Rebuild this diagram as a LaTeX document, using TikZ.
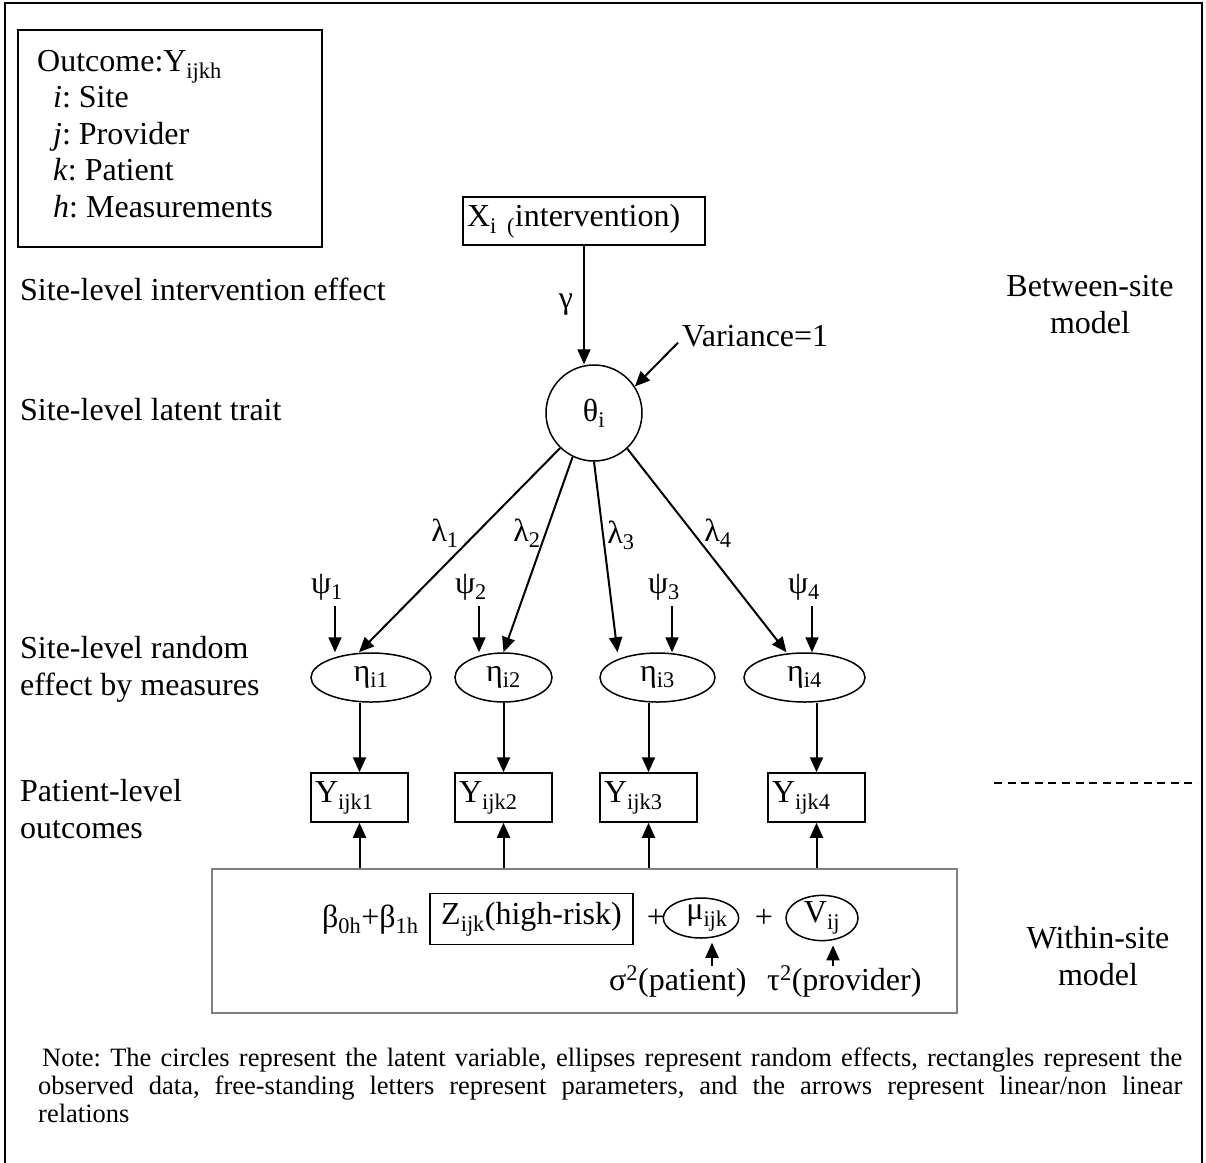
\documentclass[tikz,border=0pt]{standalone}
\usepackage{fontspec}
\setmainfont{Liberation Serif}
\usetikzlibrary{arrows.meta,shapes.geometric}
\frenchspacing

\begin{document}
\begin{tikzpicture}[x=1pt,y=-1pt,
    font=\fontsize{32}{36.5}\selectfont,
    arr/.style={-{Triangle[length=15pt,width=13pt]}, line width=2pt},
    box/.style={draw, line width=1.5pt, inner sep=4pt},
    oval/.style={draw, ellipse, line width=1.5pt, inner sep=0pt},
    lab/.style={inner sep=0pt}]
    \useasboundingbox (0,0) rectangle (1206,1162);
    \draw[line width=2pt] (5,1175) -- (5,3) -- (1202,3) -- (1202,1175);

    % Legend
    \node[box, anchor=north west, minimum width=304pt, minimum height=217pt] (key) at (17,29) {};
    \node[lab, anchor=north west, align=left] (keytext) at ([shift={(20pt,-21pt)}]key.north west)
        {Outcome:Y\textsubscript{ijkh}\\
         \hspace*{16pt}\textit{i}: Site\\
         \hspace*{16pt}\textit{j}: Provider\\
         \hspace*{16pt}\textit{k}: Patient\\
         \hspace*{16pt}\textit{h}: Measurements};

    % Level labels
    \node[lab, anchor=base west] (lvx) at (20,300) {Site-level intervention effect};
    \node[lab, anchor=base west] (lvtheta) at (20,420) {Site-level latent trait};
    \node[lab, anchor=base west, align=left] (lveta) at (20,695) {Site-level random\\effect by measures};
    \node[lab, anchor=base west, align=left] (lvy) at (20,838) {Patient-level\\outcomes};
    \node[lab, anchor=base, align=center] (between) at (1090,333) {Between-site\\model};
    \node[lab, anchor=base, align=center] (within) at (1098,985) {Within-site\\model};
    \draw[line width=2pt, dash pattern=on 8pt off 5.6pt] (994,783) -- (1198,783);

    % Between-site model
    \node[box, minimum width=242pt, minimum height=48pt, text width=234pt, align=left] (xbox) at (584,221) {X\textsubscript{i (}intervention)};
    \node[draw, circle, line width=1.5pt, minimum size=96pt, inner sep=0pt] (theta) at (594,413) {θ\textsubscript{i}};
    \node[lab, anchor=base west] (var) at (682,346) {Variance=1};
    \draw[arr] (xbox.south) -- (xbox.south |- theta.north) node[lab, midway, left=10pt] (gam) {γ};
    \draw[arr] ([shift={(-4pt,-7pt)}]var.west) -- (theta.33);

    \node[oval, minimum width=120pt, minimum height=49pt] (eta1) at (371,677.5) {η\textsubscript{i1}};
    \node[oval, minimum width=97pt, minimum height=49pt] (eta2) at (503.5,677.5) {η\textsubscript{i2}};
    \node[oval, minimum width=115pt, minimum height=49pt] (eta3) at (657.5,677.5) {η\textsubscript{i3}};
    \node[oval, minimum width=121pt, minimum height=49pt] (eta4) at (804.5,677.5) {η\textsubscript{i4}};

    \draw[arr] (theta.226) -- ([xshift=-12pt]eta1.north);
    \draw[arr] (theta.244) -- (eta2.north);
    \draw[arr] (theta.south) -- ([xshift=-40pt]eta3.north);
    \draw[arr] (theta.313) -- ([xshift=-18pt]eta4.north);
    \node[lab] (lam1) at (445,533) {λ\textsubscript{1}};
    \node[lab] (lam2) at (527,533) {λ\textsubscript{2}};
    \node[lab] (lam3) at (621,535) {λ\textsubscript{3}};
    \node[lab] (lam4) at (718,533) {λ\textsubscript{4}};

    \node[lab, anchor=base] (psi1) at (327,593) {ψ\textsubscript{1}};
    \node[lab, anchor=base] (psi2) at (471,593) {ψ\textsubscript{2}};
    \node[lab, anchor=base] (psi3) at (664,593) {ψ\textsubscript{3}};
    \node[lab, anchor=base] (psi4) at (804,593) {ψ\textsubscript{4}};
    \draw[arr] ([shift={(8pt,-6pt)}]psi1.south) -- ([xshift=8pt]psi1.south |- eta1.north);
    \draw[arr] ([shift={(8pt,-6pt)}]psi2.south) -- ([xshift=8pt]psi2.south |- eta2.north);
    \draw[arr] ([shift={(8pt,-6pt)}]psi3.south) -- ([xshift=8pt]psi3.south |- eta3.north);
    \draw[arr] ([shift={(8pt,-6pt)}]psi4.south) -- ([xshift=8pt]psi4.south |- eta4.north);

    % Patient-level outcomes
    \node[box, minimum width=97pt, minimum height=49pt, text width=89pt, align=left] (y1) at (359.5,797.5) {Y\textsubscript{ijk1}};
    \node[box, minimum width=97pt, minimum height=49pt, text width=89pt, align=left] (y2) at (503.5,797.5) {Y\textsubscript{ijk2}};
    \node[box, minimum width=97pt, minimum height=49pt, text width=89pt, align=left] (y3) at (648.5,797.5) {Y\textsubscript{ijk3}};
    \node[box, minimum width=97pt, minimum height=49pt, text width=89pt, align=left] (y4) at (816.5,797.5) {Y\textsubscript{ijk4}};
    \draw[arr] (eta1.south -| y1.north) -- (y1.north);
    \draw[arr] (eta2.south -| y2.north) -- (y2.north);
    \draw[arr] (eta3.south -| y3.north) -- (y3.north);
    \draw[arr] (eta4.south -| y4.north) -- (y4.north);

    % Within-site model
    \node[draw=gray, line width=1.5pt, minimum width=745pt, minimum height=144pt] (lower) at (584.5,941) {};
    \draw[arr] (lower.north -| y1.south) -- (y1.south);
    \draw[arr] (lower.north -| y2.south) -- (y2.south);
    \draw[arr] (lower.north -| y3.south) -- (y3.south);
    \draw[arr] (lower.north -| y4.south) -- (y4.south);

    \node[lab, anchor=base west] (beta) at (322,927) {β\textsubscript{0h}+β\textsubscript{1h}};
    \node[box, minimum width=203pt, minimum height=51pt] (zbox) at (531.5,919) {Z\textsubscript{ijk}(high-risk)};
    \node[lab, anchor=base] (plus1) at (656,927) {+};
    \node[oval, minimum width=72pt, minimum height=40pt] (mu) at (701,918) {\hspace*{12pt}μ\textsubscript{ijk}};
    \node[lab, anchor=base] (plus2) at (764,927) {+};
    \node[oval, minimum width=72pt, minimum height=40pt] (vv) at (822,918) {V\textsubscript{ij}};
    \node[lab, anchor=base west] (sig) at (609,990) {σ\textsuperscript{2}(patient)};
    \node[lab, anchor=base west] (tau) at (767,990) {τ\textsuperscript{2}(provider)};
    \draw[arr] ([xshift=11pt]mu.south |- sig.north) -- ([shift={(11pt,-4pt)}]mu.south);
    \draw[arr] ([xshift=11pt]vv.south |- tau.north) -- ([shift={(11pt,-4pt)}]vv.south);

    % Note
    \node[lab, anchor=north west, text width=1144pt, align=justify, font=\fontsize{26.5}{28}\selectfont] (note) at (38,1048)
        {\hspace*{4pt}Note: The circles represent the latent variable, ellipses represent random effects, rectangles represent the\linebreak
         observed data, free-standing letters represent parameters, and the arrows represent linear/non linear\linebreak
         relations};
\end{tikzpicture}
\end{document}
